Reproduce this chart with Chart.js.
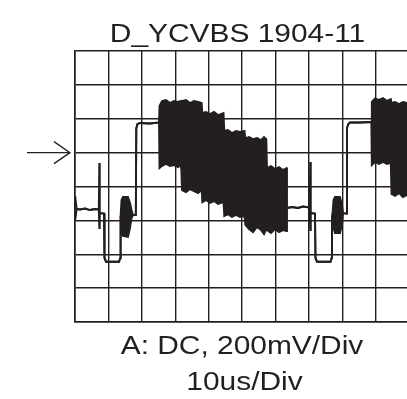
<!DOCTYPE html>
<html>
<head>
<meta charset="utf-8">
<style>
  html, body { margin: 0; padding: 0; background: #ffffff; overflow: hidden; }
  canvas { display: block; }
</style>
<script src="https://cdn.jsdelivr.net/npm/chart.js@4.4.1/dist/chart.umd.min.js"></script>
</head>
<body>
<canvas id="scope" width="407" height="399"></canvas>
<script>
// Scope capture of one CVBS colour-bar line (a bit more than one period shown).
const titleText = 'D_YCVBS 1904-11';
const channelText = 'A: DC, 200mV/Div';
const timebaseText = '10us/Div';

// Timebase and vertical setting
const usPerDiv = 10;
const mvPerDiv = 200;
const timeRangeUs = [0, 99.37];
const voltRangeMv = [-1000, 600];

// Sample times (us)
const timeUs = [
  0.06, 0.51, 1.50, 2.99, 4.49, 5.99, 7.12, 7.27, 7.42, 8.68,
  8.83, 9.28, 13.17, 13.56, 13.65, 13.92, 14.37, 15.86, 16.46, 16.91,
  17.36, 18.20, 18.35, 18.71, 19.46, 22.45, 25.14, 25.29, 26.04, 27.24,
  28.43, 29.63, 30.83, 31.67, 31.82, 32.03, 33.22, 34.42, 35.62, 36.82,
  37.92, 38.10, 39.21, 40.41, 41.60, 42.80, 44.45, 44.69, 45.79, 46.99,
  48.19, 49.39, 50.73, 50.97, 52.08, 53.28, 54.47, 55.67, 56.57, 57.26,
  57.47, 58.66, 59.86, 61.06, 62.26, 63.30, 63.45, 64.95, 66.74, 68.24,
  70.19, 70.40, 70.58, 71.83, 71.98, 72.43, 76.47, 76.83, 76.92, 77.37,
  77.82, 79.32, 79.92, 80.22, 81.26, 81.41, 81.80, 82.31, 85.30, 88.69,
  88.84, 89.79, 90.99, 92.19, 93.39, 94.52, 94.73, 95.78, 96.98, 98.17,
  99.37
];

// Upper edge of the trace (mV); the chroma bursts spread it apart from the lower edge
const upperMv = [
  -256, -333, -336, -330, -339, -333, -336, -61, -357, -360,
  -622, -644, -644, -622, -374, -280, -262, -262, -297, -339,
  -368, -368, 145, 169, 175, 172, 178, 275, 305, 311,
  293, 305, 299, 305, 275, 305, 311, 293, 305, 299,
  293, 234, 240, 228, 240, 222, 234, 128, 134, 116,
  128, 122, 128, 86, 92, 80, 86, 74, 92, 80,
  -91, -79, -97, -85, -103, -91, -327, -321, -327, -318,
  -324, -55, -357, -360, -622, -644, -644, -622, -404, -280,
  -262, -262, -309, -357, -360, 145, 169, 178, 178, 181,
  299, 319, 311, 322, 305, 316, 293, 299, 287, 299,
  293
];

// Lower edge of the trace (mV)
const lowerMv = [
  -398, -333, -336, -330, -339, -333, -336, -445, -357, -360,
  -622, -644, -644, -622, -374, -445, -492, -498, -445, -386,
  -368, -368, 145, 169, 175, 172, 178, -91, -79, -67,
  -79, -73, -85, -73, -103, -221, -233, -215, -227, -239,
  -221, -292, -280, -297, -286, -303, -292, -374, -363, -380,
  -368, -380, -374, -427, -451, -469, -439, -457, -481, -451,
  -457, -475, -451, -469, -457, -463, -327, -321, -327, -318,
  -324, -457, -357, -360, -622, -644, -644, -622, -404, -445,
  -475, -475, -427, -357, -360, 145, 169, 178, 178, 181,
  -73, -55, -67, -55, -67, -61, -244, -256, -239, -262,
  -250
];

const INK = '#231f20';

const upperPoints = timeUs.map((t, i) => ({ x: t, y: upperMv[i] }));
const lowerPoints = timeUs.map((t, i) => ({ x: t, y: lowerMv[i] }));

// Ground marker arrow and the captions around the graticule
const scopeDecor = {
  id: 'scopeDecor',
  afterDraw(chart) {
    const ctx = chart.ctx;
    const area = chart.chartArea;
    const yZero = chart.scales.y.getPixelForValue(0);
    ctx.save();
    ctx.strokeStyle = INK;
    ctx.lineWidth = 1.3;
    ctx.beginPath();
    ctx.moveTo(27, yZero);
    ctx.lineTo(area.left - 5, yZero);
    ctx.moveTo(area.left - 21, yZero - 11);
    ctx.lineTo(area.left - 5, yZero);
    ctx.lineTo(area.left - 21, yZero + 11);
    ctx.stroke();

    ctx.fillStyle = INK;
    ctx.font = '26px "Liberation Sans", Arial, sans-serif';
    ctx.textAlign = 'center';
    ctx.textBaseline = 'alphabetic';
    const wideText = (text, cx, baseline) => {
      ctx.save();
      ctx.translate(cx, baseline);
      ctx.scale(1.15, 1);
      ctx.fillText(text, 0, 0);
      ctx.restore();
    };
    wideText(titleText, 237.5, 41.7);
    wideText(channelText, 242, area.bottom + 31.5);
    wideText(timebaseText, 244.5, area.bottom + 68);
    ctx.restore();
  }
};

new Chart(document.getElementById('scope'), {
  type: 'line',
  data: {
    datasets: [
      {
        label: 'upper',
        data: upperPoints,
        borderColor: INK,
        borderWidth: 1.9,
        pointRadius: 0,
        tension: 0,
        fill: false
      },
      {
        label: 'lower',
        data: lowerPoints,
        borderColor: INK,
        backgroundColor: INK,
        borderWidth: 1.9,
        pointRadius: 0,
        tension: 0,
        fill: '-1'
      }
    ]
  },
  options: {
    responsive: false,
    animation: false,
    devicePixelRatio: 1,
    layout: { padding: { left: 75, top: 51, right: 0, bottom: 77 } },
    plugins: {
      legend: { display: false },
      tooltip: { enabled: false },
      title: { display: false }
    },
    scales: {
      x: {
        type: 'linear',
        min: timeRangeUs[0],
        max: timeRangeUs[1],
        ticks: { display: false, stepSize: usPerDiv, includeBounds: false },
        grid: { color: INK, lineWidth: 1.4, drawTicks: false },
        border: { display: true, color: INK, width: 1.6 }
      },
      y: {
        type: 'linear',
        min: voltRangeMv[0],
        max: voltRangeMv[1],
        ticks: { display: false, stepSize: mvPerDiv },
        grid: { color: INK, lineWidth: 1.4, drawTicks: false },
        border: { display: true, color: INK, width: 1.6 }
      }
    }
  },
  plugins: [scopeDecor]
});
</script>
</body>
</html>
